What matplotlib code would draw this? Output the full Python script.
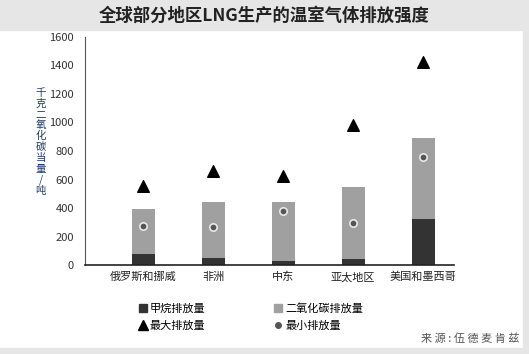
import numpy as np
import matplotlib.pyplot as plt
from matplotlib.lines import Line2D
from matplotlib.patches import Rectangle

plt.rcParams['font.family'] = ['Noto Sans CJK SC', 'DejaVu Sans']

regions = ['俄罗斯和挪威', '非洲', '中东', '亚太地区', '美国和墨西哥']
methane = [77, 47, 28, 42, 320]
co2 = [316, 397, 417, 508, 570]
max_emis = [555, 662, 622, 982, 1428]
min_emis = [274, 267, 377, 292, 755]
yticks = [0, 200, 400, 600, 800, 1000, 1200, 1400, 1600]

fig = plt.figure(figsize=(5.29, 3.54), dpi=100)
# grey frame: title band, right and bottom strips
fig.patches.append(Rectangle((0, 0.915), 1, 0.085, transform=fig.transFigure, color='#e6e6e6', zorder=0))
fig.patches.append(Rectangle((0.988, 0), 0.012, 1, transform=fig.transFigure, color='#e6e6e6', zorder=0))
fig.patches.append(Rectangle((0, 0), 1, 0.017, transform=fig.transFigure, color='#e6e6e6', zorder=0))

ax = fig.add_axes([0.1607, 0.2514, 0.6975, 0.6441])
x = np.arange(len(regions))
w = 0.33
ax.bar(x, methane, w, color='#333333', zorder=2)
ax.bar(x, co2, w, bottom=methane, color='#a0a0a0', zorder=2)
ax.scatter(x, max_emis, marker='^', s=70, color='black', zorder=3)
ax.scatter(x, min_emis, marker='o', s=28, color='#555555', edgecolors='#e8e8e8', linewidths=1.2, zorder=3)

ax.set_xlim(-0.83, 4.44)
ax.set_ylim(0, 1600)
ax.set_yticks(yticks)
ax.set_xticks(x)
ax.set_xticklabels(regions, fontsize=8, color='#222222')
ax.tick_params(axis='y', length=0, pad=8, labelsize=8, labelcolor='#333333')
ax.tick_params(axis='x', length=0, pad=5)
for s in ['top', 'right']:
    ax.spines[s].set_visible(False)
ax.spines['left'].set_color('#555555')
ax.spines['bottom'].set_color('#222222')
ax.spines['bottom'].set_linewidth(1.2)

fig.text(0.5, 0.955, '全球部分地区LNG生产的温室气体排放强度', ha='center', va='center',
         fontsize=12.5, fontweight='bold', color='#222222')
fig.text(0.077, 0.6, '\n'.join('千克二氧化碳当量/吨'), ha='center', va='center',
         fontsize=7.5, color='#1f3a68', linespacing=1.1)

handles = [
    Line2D([], [], marker='s', color='#333333', linestyle='none', markersize=6),
    Line2D([], [], marker='^', color='black', linestyle='none', markersize=7),
    Line2D([], [], marker='s', color='#a0a0a0', linestyle='none', markersize=6),
    Line2D([], [], marker='o', color='#555555', linestyle='none', markersize=4),
]
labels = ['甲烷排放量', '最大排放量', '二氧化碳排放量', '最小排放量']
fig.legend(handles, labels, ncol=2, loc='upper left', bbox_to_anchor=(0.252, 0.16),
           frameon=False, fontsize=8, handlelength=0.8, handletextpad=0.2,
           columnspacing=6.15, labelspacing=0.6, borderpad=0)

fig.text(0.982, 0.045, '来 源 : 伍 德 麦 肯 兹', ha='right', va='center', fontsize=8, color='#555555')

fig.savefig('out.png', dpi=100)
